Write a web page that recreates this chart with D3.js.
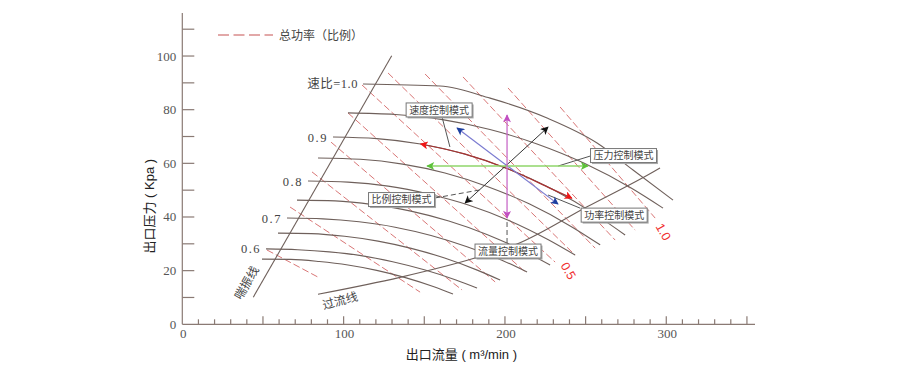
<!DOCTYPE html>
<html><head><meta charset="utf-8">
<script src="https://cdn.jsdelivr.net/npm/d3@7"></script>
<style>body{margin:0;background:#fff}</style>
</head><body><svg id="c" width="900" height="367"></svg>
<script>
// ---------- data ----------
const xTickLabels = [0, 100, 200, 300];
const yTickLabels = [0, 20, 40, 60, 80, 100];
const xMinorTicks = [10,20,30,40,50,60,70,80,90,100,110,120,130,140,150,160,170,180,190,200,210,220,230,240,250,260,270,280,290,300,310,320,330,340,350];
const xMajorTicks = [50,100,150,200,250,300,350];
const yMinorTicks = [10,20,30,40,50,60,70,80,90,100,110];

// speed lines (speed ratio) : [flow, pressure]
const speed100 = [[112.0,89.6],[159.8,88.8],[190.8,84.3],[226.1,76.9],[257.1,67.6],[279.4,57.5],[304.2,46.3]];
const speed095 = [[102.7,78.8],[132.1,78.2],[161.3,76.3],[190.7,72.6],[219.9,67.2],[249.2,60.0],[278.5,50.7],[298.0,43.3]];
const speed090 = [[93.4,69.8],[120.6,69.2],[147.7,67.2],[174.9,63.5],[202.1,57.9],[229.2,50.4],[256.4,40.8],[274.5,33.3]];
const speed085 = [[84.1,62.0],[110.4,61.5],[136.6,59.7],[162.8,56.4],[189.0,51.4],[215.3,44.8],[241.5,36.3],[259.0,29.6]];
const speed080 = [[77.9,53.4],[102.7,53.0],[127.6,51.5],[152.5,48.6],[177.3,44.5],[202.1,38.8],[226.9,31.5],[243.5,25.8]];
const speed075 = [[71.1,46.3],[94.7,46.0],[118.2,44.6],[141.7,42.2],[165.2,38.5],[188.8,33.5],[212.3,27.1],[228.0,22.1]];
const speed070 = [[64.9,39.6],[87.2,39.3],[109.6,38.2],[131.9,36.2],[154.2,33.1],[176.5,28.9],[198.8,23.7],[213.7,19.5]];
const speed065 = [[59.3,34.0],[80.0,33.8],[100.6,32.8],[121.3,31.0],[141.9,28.3],[162.6,24.7],[183.2,20.1],[197.0,16.5]];
const speed060 = [[51.9,28.1],[71.5,27.8],[91.1,27.0],[110.8,25.6],[130.4,23.3],[150.0,20.3],[169.6,16.5],[182.7,13.5]];
const speed055 = [[49.4,24.3],[67.2,24.2],[84.9,23.4],[102.7,22.1],[120.5,20.1],[138.3,17.4],[156.0,14.0],[167.8,11.3]];
const speedLines = [speed100, speed095, speed090, speed085, speed080, speed075, speed070, speed065, speed060, speed055];
const speedLabelIdx = [0, 2, 4, 6, 8];
const speedLabels = ["速比=1.0", "0.9", "0.8", "0.7", "0.6"];

// total power (ratio) dashed lines
const power100 = [[234.2,81.0],[293.1,39.6]];
const power090 = [[201.9,88.1],[280.7,35.1]];
const power080 = [[174.0,92.2],[268.3,31.4]];
const power070 = [[150.5,93.3],[255.9,28.4]];
const power060 = [[127.5,93.7],[243.5,25.8]];
const power050 = [[111.4,89.2],[231.1,23.2]];
const power040 = [[102.7,78.8],[212.5,19.5]];
const power030 = [[92.2,67.9],[193.9,15.8]];
const power020 = [[80.4,56.8],[173.4,12.8]];
const power010 = [[66.8,43.7],[147.4,12.0]];
const power005 = [[52.5,27.7],[84.1,17.6]];
const powerLines = [power100, power090, power080, power070, power060, power050, power040, power030, power020, power010, power005];

const surgeLine = [[44.0,10.1],[129.8,100.1]];
const overflowLine = [[84.1,11.2],[134.9,17.5],[181.4,24.7],[207.5,29.9],[250.9,43.8],[291.8,56.8],[296.1,58.3]];

// operating point and control-mode arrows
const center = [201.3, 59.0];
const arrowPressure = [[201.3,78.0],[201.3,39.6]];   // magenta vertical
const arrowFlow = [[151.7,59.0],[251.5,59.0]];       // green horizontal
const arrowRatio = [[175.3,45.2],[226.7,73.5]];      // black diagonal
const arrowSpeed = [[170.3,73.2],[232.9,44.8]];      // blue diagonal
const arrowPower = [[147.7,67.2],[174.9,63.5],[202.1,57.9],[229.2,50.4],[241.5,47.0]]; // red, along speed line

const boxNames = ["速度控制模式", "压力控制模式", "比例控制模式", "功率控制模式", "流量控制模式"];
const boxCenters = [[159.2,79.9],[273.5,62.9],[135.9,46.5],[267.7,40.7],[201.9,27.3]];
const leaders = [
  [[161.0,77.3],[165.9,66.1]],
  [[252.8,62.7],[233.0,59.0]],
  [[156.7,47.1],[184.6,50.1]],
  [[246.6,43.3],[226.7,48.2]],
  [[201.3,30.3],[201.3,38.1]]
];
const leaderDashed = [false, false, true, false, true];

// ---------- drawing ----------
const svg = d3.select("#c");
const x = d3.scaleLinear().domain([0, 355]).range([182.3, 755]);
const y = d3.scaleLinear().domain([0, 116]).range([324.3, 13.1]);
const axisColor = "#8a7a74";
const lineColor = "#6f605b";
const serif = "'Liberation Serif','DejaVu Serif',serif";
const sans = "'Liberation Sans','Noto Sans CJK SC',sans-serif";
const cjk = "'Noto Sans CJK SC','Liberation Sans',sans-serif";

const line = d3.line().x(d => x(d[0])).y(d => y(d[1]));
const curve = d3.line().x(d => x(d[0])).y(d => y(d[1])).curve(d3.curveMonotoneX);

// axes
svg.append("line").attr("x1", x(0)).attr("x2", x(0)).attr("y1", y(0)).attr("y2", y(116))
  .attr("stroke", axisColor).attr("stroke-width", 1.2);
svg.append("line").attr("x1", x(0)).attr("x2", x(355)).attr("y1", y(0)).attr("y2", y(0))
  .attr("stroke", axisColor).attr("stroke-width", 1.2);
svg.selectAll(".yt").data(yMinorTicks).enter().append("line")
  .attr("x1", x(0)).attr("x2", x(0) + 12).attr("y1", d => y(d)).attr("y2", d => y(d))
  .attr("stroke", axisColor).attr("stroke-width", 1.2);
svg.selectAll(".xt").data(xMinorTicks).enter().append("line")
  .attr("x1", d => x(d)).attr("x2", d => x(d))
  .attr("y1", y(0)).attr("y2", d => y(0) - (xMajorTicks.includes(d) ? 8 : 5))
  .attr("stroke", axisColor).attr("stroke-width", 1.2);
svg.selectAll(".yl").data(yTickLabels).enter().append("text")
  .attr("x", x(0) - 6).attr("y", d => y(d) + 4.5).attr("text-anchor", "end")
  .attr("font-family", serif).attr("font-size", 13).attr("fill", "#555").text(d => d);
svg.selectAll(".xl").data(xTickLabels).enter().append("text")
  .attr("x", d => x(d) + 1).attr("y", y(0) + 14).attr("text-anchor", "middle")
  .attr("font-family", serif).attr("font-size", 13).attr("fill", "#555").text(d => d);

// axis titles
svg.append("text").attr("transform", `translate(${x(0) - 28},${y(44)}) rotate(-90)`)
  .attr("text-anchor", "middle").attr("font-family", sans).attr("font-size", 13).attr("fill", "#222")
  .text("出口压力 ( Kpa )");
svg.append("text").attr("x", x(173)).attr("y", y(0) + 35)
  .attr("text-anchor", "middle").attr("font-family", sans).attr("font-size", 13).attr("fill", "#222")
  .text("出口流量 ( m³/min )");

// legend
svg.append("line").attr("x1", 218).attr("x2", 273).attr("y1", 35).attr("y2", 35)
  .attr("stroke", "#d98c8c").attr("stroke-width", 1.3).attr("stroke-dasharray", "11,4.5");
svg.append("text").attr("x", 279).attr("y", 39.5).attr("font-family", cjk).attr("font-size", 12)
  .attr("fill", "#444").text("总功率（比例）");

// power dashed lines
svg.selectAll(".pw").data(powerLines).enter().append("path")
  .attr("d", d => line(d)).attr("fill", "none").attr("stroke", "#d46565")
  .attr("stroke-width", 0.9).attr("stroke-dasharray", "7,3");

// speed lines
svg.selectAll(".sp").data(speedLines).enter().append("path")
  .attr("d", d => curve(d)).attr("fill", "none").attr("stroke", lineColor).attr("stroke-width", 1.1);

// speed labels
speedLabelIdx.forEach((idx, i) => {
  const p = speedLines[idx][0];
  svg.append("text").attr("x", x(p[0]) - 5).attr("y", y(p[1]) + 4.5).attr("text-anchor", "end")
    .attr("font-family", i === 0 ? "'Liberation Serif','Noto Sans CJK SC',serif" : serif)
    .attr("font-size", 12.5).attr("letter-spacing", i === 0 ? 0.5 : 1.5).attr("fill", "#444")
    .text(speedLabels[i]);
});

// surge and overflow lines
svg.append("path").attr("d", line(surgeLine)).attr("fill", "none").attr("stroke", lineColor).attr("stroke-width", 1.1);
svg.append("path").attr("d", curve(overflowLine)).attr("fill", "none").attr("stroke", lineColor).attr("stroke-width", 1.1);
svg.append("text").attr("transform", `translate(${x(39.9)},${y(15.4)}) rotate(-60)`)
  .attr("text-anchor", "middle").attr("dy", 4).attr("font-family", cjk).attr("font-size", 12).attr("fill", "#444").text("喘振线");
svg.append("text").attr("transform", `translate(${x(97.8)},${y(8.7)}) rotate(-15)`)
  .attr("text-anchor", "middle").attr("dy", 4).attr("font-family", cjk).attr("font-size", 12).attr("fill", "#444").text("过流线");

// power labels
const powerLabel = (pts, txt, dx, dy) => {
  const e = pts[pts.length - 1];
  svg.append("text").attr("transform", `translate(${x(e[0]) + dx},${y(e[1]) + dy}) rotate(60)`)
    .attr("text-anchor", "middle").attr("dy", 4).attr("font-family", sans).attr("font-size", 12.5)
    .attr("fill", "#f03030").text(txt);
};
powerLabel(power100, "1.0", 8, 14);
powerLabel(power050, "0.5", 13, 9);

// markers
const defs = svg.append("defs");
function marker(id, color) {
  defs.append("marker").attr("id", id).attr("viewBox", "0 0 10 10").attr("refX", 9).attr("refY", 5)
    .attr("markerWidth", 9).attr("markerHeight", 8).attr("markerUnits", "userSpaceOnUse")
    .attr("orient", "auto-start-reverse")
    .append("path").attr("d", "M0,0 L10,5 L0,10 L2.5,5 Z").attr("fill", color);
}
marker("mMag", "#c24fc2"); marker("mGrn", "#5cc23a"); marker("mBlk", "#111");
marker("mBlu", "#1d3fa0"); marker("mRed", "#f01515");

// leader lines (behind boxes)
leaders.forEach((l, i) => {
  svg.append("path").attr("d", line(l)).attr("fill", "none").attr("stroke", "#555").attr("stroke-width", 1)
    .attr("stroke-dasharray", leaderDashed[i] ? "5,3" : null);
});

// arrows
function arrow(pts, color, mk, w, cv) {
  svg.append("path").attr("d", cv ? curve(pts) : line(pts)).attr("fill", "none").attr("stroke", color)
    .attr("stroke-width", w).attr("marker-start", `url(#${mk})`).attr("marker-end", `url(#${mk})`);
}
arrow(arrowPower, "#a83232", "mRed", 1.2, true);
arrow(arrowSpeed, "#7a7ad0", "mBlu", 1.2, false);
arrow(arrowRatio, "#333", "mBlk", 1, false);
arrow(arrowFlow, "#8fd66a", "mGrn", 1.3, false);
arrow(arrowPressure, "#c96ac9", "mMag", 1.3, false);

// boxes
boxCenters.forEach((c, i) => {
  const cx = x(c[0]), cy = y(c[1]), w = 66, h = 14;
  svg.append("rect").attr("x", cx - w / 2 + 1.5).attr("y", cy - h / 2 + 1.5).attr("width", w).attr("height", h).attr("fill", "#aaa");
  svg.append("rect").attr("x", cx - w / 2).attr("y", cy - h / 2).attr("width", w).attr("height", h)
    .attr("fill", "#fff").attr("stroke", "#777").attr("stroke-width", 1);
  svg.append("text").attr("x", cx).attr("y", cy + 3.7).attr("text-anchor", "middle")
    .attr("font-family", cjk).attr("font-size", 10).attr("fill", "#444").text(boxNames[i]);
});
</script></body></html>
